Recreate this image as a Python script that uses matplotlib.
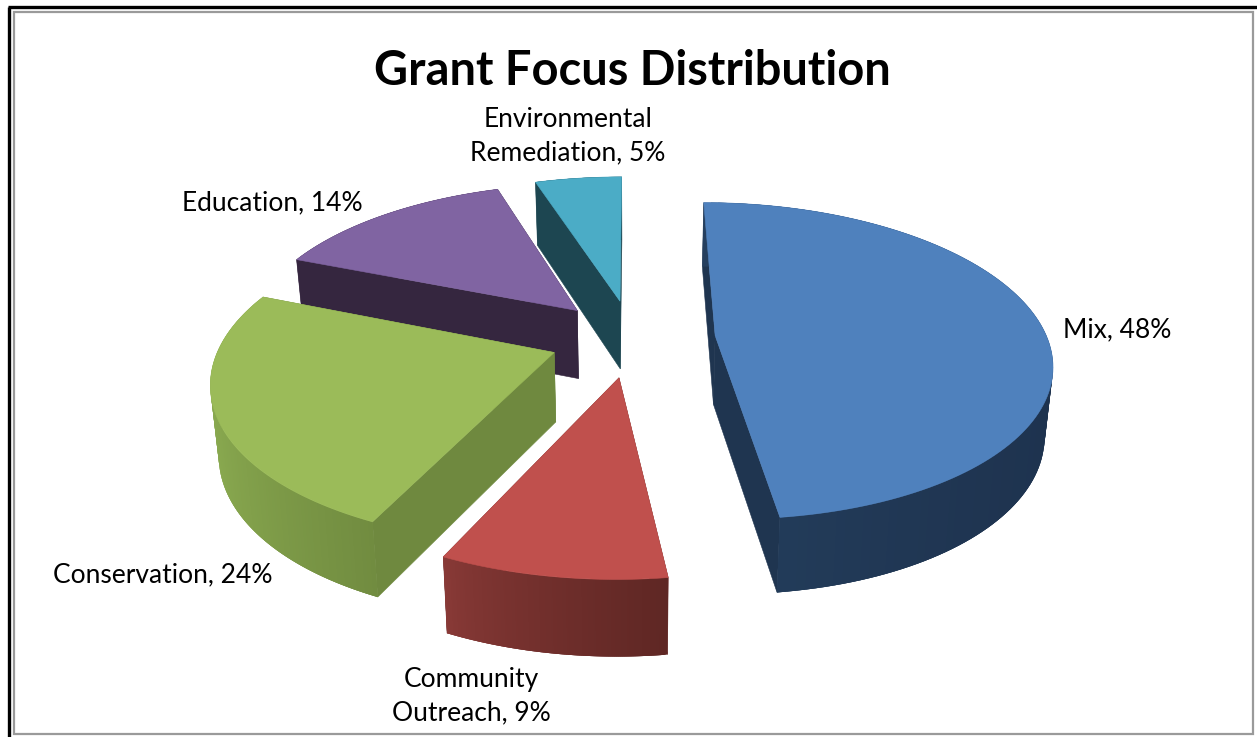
#!/usr/bin/env python3
"""
Grant focus distribution drawn as an exploded 3D pie
"""

import numpy as np
import matplotlib
matplotlib.use('Agg')
import matplotlib.pyplot as plt
from matplotlib.patches import Polygon, Rectangle

categories = ['Mix', 'Community Outreach', 'Conservation', 'Education', 'Environmental Remediation']
shares = [48, 9, 24, 14, 5]

top_colors = ['#4f81bd', '#c0504d', '#9bbb59', '#8064a2', '#4bacc6']
cut_colors = ['#1f3550', '#6b2a28', '#6f893f', '#35263f', '#1d4651']
rim_left = ['#25405f', '#8a3a37', '#8aaa50', '#35263f', '#1d4651']
rim_right = ['#1e334f', '#5f2724', '#718c40', '#35263f', '#1d4651']

# view parameters of the projected disk, in pixels
CX, CY = 632.5, 338
RX, RY = 332, 155
PERSP = 0.16
EXPLODE = 0.25
DEPTH = 69


def project(u, v, lowered=False):
    """Plane coordinates to canvas pixels, with perspective toward the viewer"""
    u, v = np.asarray(u, float), np.asarray(v, float)
    w = 1 / (1 - PERSP * v)
    x = CX + RX * u * w
    y = CY + RY * v * w
    if lowered:
        x = CX + (x - CX) * 0.98
        y = y + DEPTH * np.sqrt(w)
    return x, y


def add_poly(ax, x, y, color, z, lw=0.4):
    pts = np.column_stack([x, y])
    ax.add_patch(Polygon(pts, closed=True, facecolor=color, edgecolor=color if lw else 'none',
                         linewidth=lw, zorder=z))


def hex_mix(a, b, t):
    ca, cb = matplotlib.colors.to_rgb(a), matplotlib.colors.to_rgb(b)
    return tuple(p + (q - p) * t for p, q in zip(ca, cb))


def draw_slice(ax, start, end, idx, z):
    mid = (start + end) / 2
    du, dv = EXPLODE * np.sin(mid), -EXPLODE * np.cos(mid)
    th = np.linspace(start, end, 120)
    u = du + np.sin(th)
    v = dv - np.cos(th)

    # the two radial cut walls
    for a in (start, end):
        eu, ev = du + np.sin(a), dv - np.cos(a)
        x0, y0 = project([du, eu], [dv, ev])
        x1, y1 = project([du, eu], [dv, ev], lowered=True)
        add_poly(ax, np.r_[x0, x1[::-1]], np.r_[y0, y1[::-1]], cut_colors[idx], z)

    # outer rim, shaded strip by strip; each strip overlaps the next to hide seams
    xt, yt = project(u, v)
    xb, yb = project(u, v, lowered=True)
    span = max(xt.max() - xt.min(), 1)
    order = range(len(th) - 1)
    if idx == 2:
        order = reversed(order)
    for i in order:
        j = min(i + 3, len(th) - 1)
        if idx == 2:
            j = i + 1
            k = max(i - 2, 0)
            xs = [xt[k], xt[j], xb[j], xb[k]]
            ys = [yt[k], yt[j], yb[j], yb[k]]
        else:
            xs = [xt[i], xt[j], xb[j], xb[i]]
            ys = [yt[i], yt[j], yb[j], yb[i]]
        t = (0.5 * (xt[i] + xt[i + 1]) - xt.min()) / span
        add_poly(ax, xs, ys, hex_mix(rim_left[idx], rim_right[idx], t ** 0.7), z + 0.1, lw=0)

    # top face
    ax.add_patch(Polygon(np.column_stack([*project(np.r_[du, u], np.r_[dv, v])]),
                         closed=True, facecolor=top_colors[idx],
                         edgecolor=top_colors[idx], linewidth=0.4, zorder=z + 0.2))


fig = plt.figure(figsize=(12.57, 7.37), dpi=100)
ax = fig.add_axes([0, 0, 1, 1])
ax.set_xlim(0, 1257)
ax.set_ylim(737, 0)
ax.axis('off')

# chart frame: heavy black outer line with a thin grey inner line
ax.plot([9, 9], [737, 7], color='black', lw=2.4, zorder=1, solid_capstyle='butt')
ax.plot([8, 1257], [7, 7], color='black', lw=2.4, zorder=1, solid_capstyle='butt')
ax.add_patch(Rectangle((14, 12), 1239, 722, fill=False, edgecolor='#9a9a9a', lw=1.6, zorder=1))

# slice angles run clockwise from twelve o'clock
edges = np.deg2rad(np.r_[0, np.cumsum(shares)] * 3.6)
draw_order = [4, 3, 0, 2, 1]
for z, idx in enumerate(draw_order):
    draw_slice(ax, edges[idx], edges[idx + 1], idx, 2 + z)

font = ['Lato', 'DejaVu Sans']
ax.text(632, 71, 'Grant Focus Distribution', family=font, fontsize=33.8, fontweight='bold',
        ha='center', va='center', color='black', zorder=20)

label_text = ['Mix, 48%', 'Community\nOutreach, 9%', 'Conservation, 24%',
              'Education, 14%', 'Environmental\nRemediation, 5%']
label_pos = [(1117, 330), (471, 696), (163, 575), (272, 203), (568, 136)]
for txt, (lx, ly) in zip(label_text, label_pos):
    ax.text(lx, ly, txt, family=font, fontsize=19, ha='center', va='center',
            linespacing=1.4, color='black', zorder=20)

fig.savefig('out.png', dpi=100)
